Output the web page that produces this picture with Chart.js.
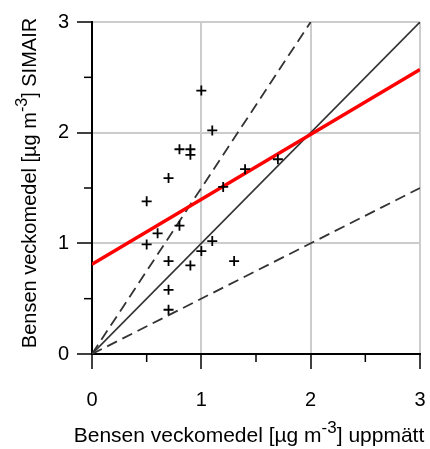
<!DOCTYPE html>
<html>
<head>
<meta charset="utf-8">
<script src="https://cdn.jsdelivr.net/npm/chart.js@4/dist/chart.umd.min.js"></script>
<style>
  html, body { margin: 0; padding: 0; background: #fff; }
  #wrap { width: 430px; height: 449px; }
</style>
</head>
<body>
<div id="wrap"><canvas id="chart"></canvas></div>
<script>
// measured (x) vs SIMAIR (y), weekly means
const measuredX = [1.0, 1.1, 0.8, 0.9, 0.9, 0.7, 1.4, 1.7, 1.2, 0.5, 0.8, 0.6, 0.5, 1.1, 1.0, 0.7, 1.3, 0.9, 0.7, 0.7];
const simairY   = [2.38, 2.02, 1.85, 1.85, 1.80, 1.59, 1.67, 1.76, 1.51, 1.38, 1.16, 1.09, 0.99, 1.02, 0.93, 0.84, 0.84, 0.80, 0.58, 0.40];

// reference lines (endpoints)
const oneToOneX = [0, 3];
const oneToOneY = [0, 3];
const upperX = [0, 2];
const upperY = [0, 3];
const lowerX = [0, 3];
const lowerY = [0, 1.5];
const fitX = [0, 3];
const fitY = [0.81, 2.57];

const tickValues = [0, 1, 2, 3];
const minorTicks = [0.5, 1.5, 2.5];

const xTitle = [['Bensen veckomedel [µg m', false], ['-3', true], ['] uppmätt', false]];
const yTitle = [['Bensen veckomedel [µg m', false], ['-3', true], ['] SIMAIR', false]];

const FONT = '"Liberation Sans", Arial, sans-serif';

function toPoints(xs, ys) {
    return xs.map((x, i) => ({ x: x, y: ys[i] }));
}

function isMajor(ctx) {
    return ctx.tick && tickValues.includes(ctx.tick.value);
}

function drawRich(ctx, parts, x, y, size) {
    const supSize = Math.round(size * 0.8);
    let total = 0;
    parts.forEach(p => {
        ctx.font = (p[1] ? supSize : size) + 'px ' + FONT;
        total += ctx.measureText(p[0]).width;
    });
    let cx = x - total / 2;
    parts.forEach(p => {
        ctx.font = (p[1] ? supSize : size) + 'px ' + FONT;
        ctx.fillText(p[0], cx, p[1] ? y - size * 0.45 : y);
        cx += ctx.measureText(p[0]).width;
    });
}

const extrasPlugin = {
    id: 'extras',
    afterDraw(chart) {
        const ctx = chart.ctx;
        const xs = chart.scales.x, ys = chart.scales.y;
        const area = chart.chartArea;
        ctx.save();
        // minor ticks
        ctx.strokeStyle = '#000';
        ctx.lineWidth = 1.5;
        minorTicks.forEach(v => {
            const px = xs.getPixelForValue(v);
            ctx.beginPath();
            ctx.moveTo(px, area.bottom);
            ctx.lineTo(px, area.bottom + 8);
            ctx.stroke();
            const py = ys.getPixelForValue(v);
            ctx.beginPath();
            ctx.moveTo(area.left, py);
            ctx.lineTo(area.left - 8, py);
            ctx.stroke();
        });
        // axis titles
        ctx.fillStyle = '#000';
        ctx.textBaseline = 'alphabetic';
        ctx.textAlign = 'left';
        drawRich(ctx, xTitle, 249, 442, 21);
        ctx.translate(36, 183);
        ctx.rotate(-Math.PI / 2);
        drawRich(ctx, yTitle, 0, 0, 20);
        ctx.restore();
    }
};

function axisOptions() {
    return {
        type: 'linear',
        min: 0,
        max: 3,
        ticks: {
            stepSize: 0.5,
            autoSkip: false,
            color: '#000',
            font: { family: FONT, size: 20 },
            callback: v => tickValues.includes(v) ? String(v) : ''
        },
        grid: {
            color: ctx => (isMajor(ctx) && ctx.tick.value > 0) ? '#cccccc' : 'rgba(0,0,0,0)',
            lineWidth: 2,
            tickColor: ctx => isMajor(ctx) ? '#000' : 'rgba(0,0,0,0)',
            tickLength: 15,
            tickWidth: 1.5
        },
        border: { color: '#000', width: 2 }
    };
}

const xAxis = axisOptions();
xAxis.ticks.padding = 19;
xAxis.afterFit = scale => {
    scale.height = 95;
    scale.paddingLeft = 0;
    scale.paddingRight = 0;
};
const yAxis = axisOptions();
yAxis.ticks.padding = 8;
yAxis.afterFit = scale => {
    scale.width = 92;
    scale.paddingTop = 0;
    scale.paddingBottom = 0;
};

new Chart(document.getElementById('chart'), {
    type: 'scatter',
    data: {
        datasets: [
            {
                label: 'data',
                data: toPoints(measuredX, simairY),
                pointStyle: 'cross',
                pointRadius: 5,
                pointBorderWidth: 1.8,
                borderColor: '#000',
                backgroundColor: '#000'
            },
            {
                label: 'fit',
                type: 'line',
                data: toPoints(fitX, fitY),
                borderColor: '#ff0000',
                borderWidth: 3.5,
                pointRadius: 0
            },
            {
                label: '1:1',
                type: 'line',
                data: toPoints(oneToOneX, oneToOneY),
                borderColor: '#333333',
                borderWidth: 1.6,
                pointRadius: 0
            },
            {
                label: 'upper',
                type: 'line',
                data: toPoints(upperX, upperY),
                borderColor: '#333333',
                borderWidth: 1.8,
                borderDash: [11, 6],
                pointRadius: 0
            },
            {
                label: 'lower',
                type: 'line',
                data: toPoints(lowerX, lowerY),
                borderColor: '#333333',
                borderWidth: 1.8,
                borderDash: [11, 6],
                pointRadius: 0
            }
        ]
    },
    options: {
        responsive: true,
        maintainAspectRatio: false,
        animation: false,
        layout: { autoPadding: false, padding: { top: 22, right: 10, left: 0, bottom: 0 } },
        plugins: {
            legend: { display: false },
            tooltip: { enabled: false }
        },
        scales: { x: xAxis, y: yAxis }
    },
    plugins: [extrasPlugin]
});
</script>
</body>
</html>
